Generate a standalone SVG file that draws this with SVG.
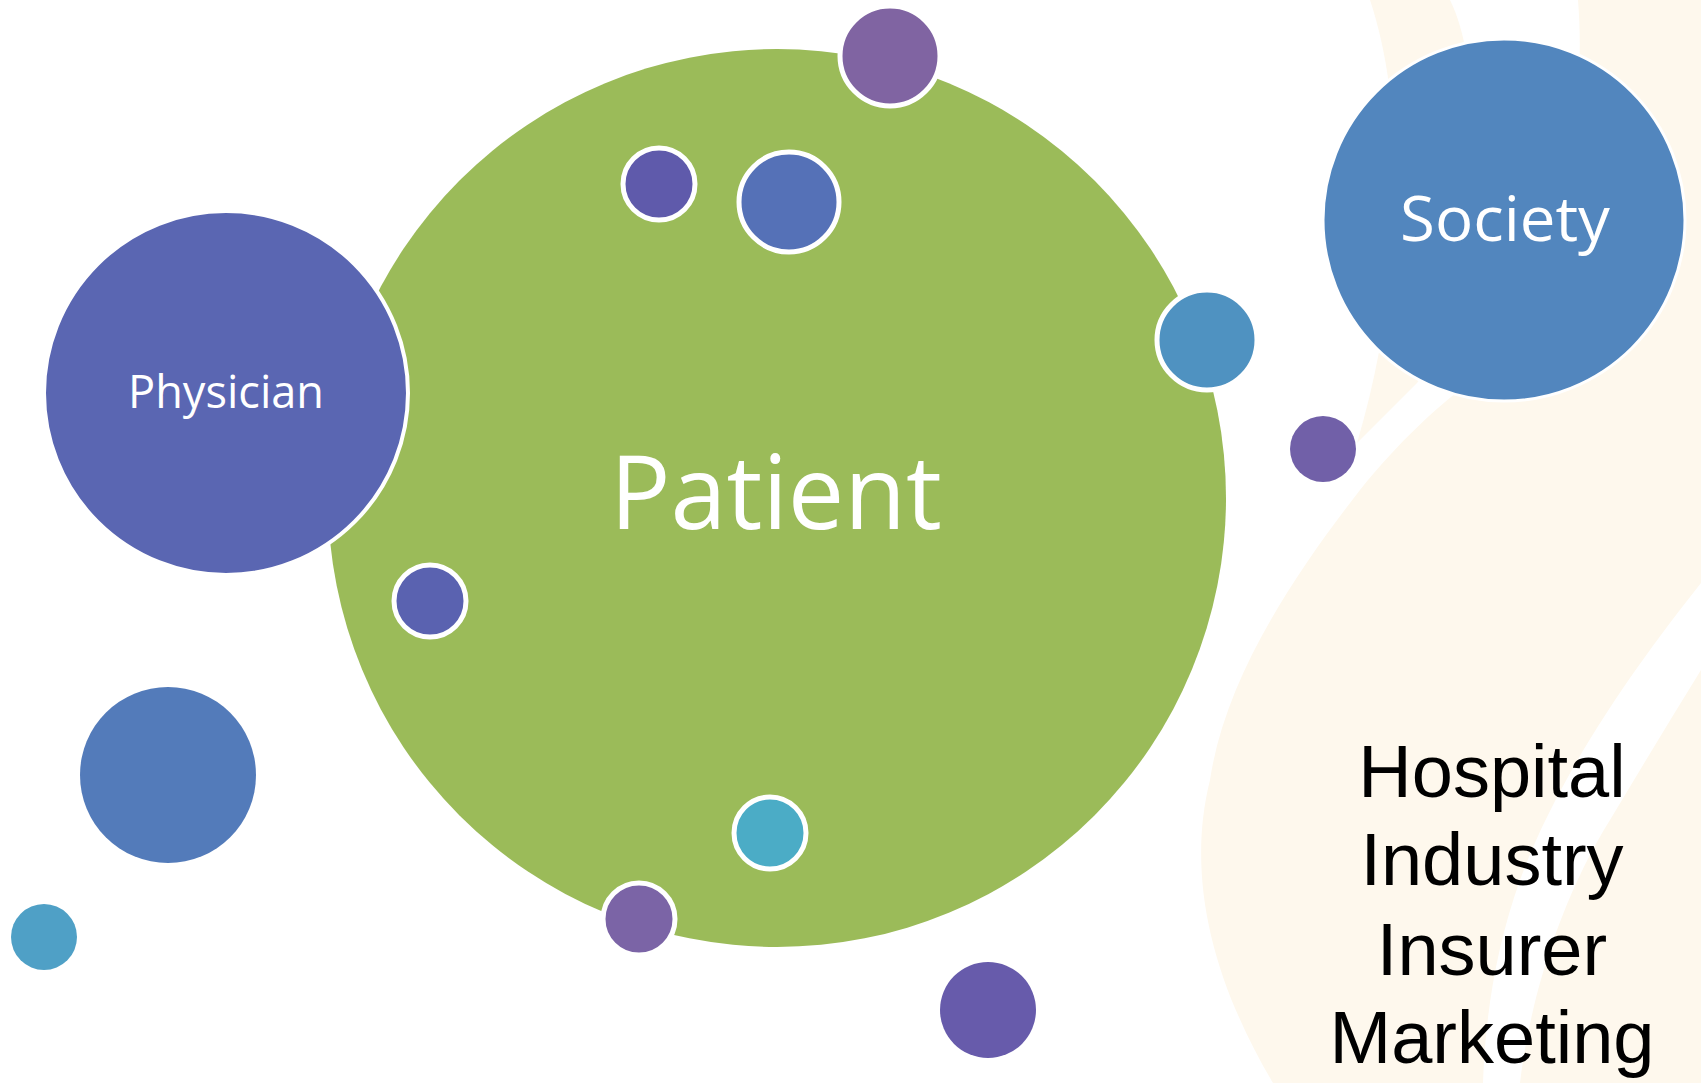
<svg xmlns="http://www.w3.org/2000/svg" width="1701" height="1083" viewBox="0 0 1701 1083">
  <style>
    .cream { fill: #fef8ed; }
    .ring { stroke: #ffffff; stroke-width: 5; }
    .lbl { font-family: "Open Sans", "Liberation Sans", sans-serif; fill: #ffffff; text-anchor: middle; }
    .side { font-family: "Liberation Sans", Arial, sans-serif; fill: #000000; font-size: 74px; text-anchor: middle; }
  </style>

  <rect width="1701" height="1083" fill="#ffffff"/>

  <!-- background swooshes -->
  <g id="background">
    <path class="cream" d="M1370,0 L1450,0 C1490,80 1480,300 1417,383 L1357,443 C1400,300 1410,120 1370,0 Z"/>
    <path class="cream" d="M1578,0 L1701,0 L1701,1083 L1273,1083 C1215,985 1185,880 1210,780 C1225,680 1290,580 1360,490 C1400,440 1440,405 1460,390 C1540,300 1590,150 1578,0 Z"/>
    <path fill="#ffffff" d="M1701,583 C1640,660 1560,770 1520,880 C1495,950 1485,1020 1483,1083 L1520,1083 C1530,1000 1560,900 1610,820 C1640,770 1670,720 1701,670 Z"/>
  </g>

  <!-- main circles -->
  <g id="patient">
    <circle cx="777" cy="498" r="449" fill="#9bbb59"/>
    <text class="lbl" x="776" y="529" font-size="102" textLength="332" lengthAdjust="spacingAndGlyphs">Patient</text>
  </g>

  <g id="physician">
    <circle cx="226" cy="393" r="182" fill="#5a66b2" stroke="#ffffff" stroke-width="4"/>
    <text class="lbl" x="226" y="408" font-size="46" textLength="196" lengthAdjust="spacingAndGlyphs">Physician</text>
  </g>

  <g id="society">
    <circle cx="1504" cy="220" r="181" fill="#5286be" stroke="#ffffff" stroke-width="3"/>
    <text class="lbl" x="1505" y="241" font-size="63" textLength="210" lengthAdjust="spacingAndGlyphs">Society</text>
  </g>

  <!-- small satellite circles -->
  <g id="dots">
    <circle class="ring" cx="890" cy="56" r="50" fill="#8064a2"/>
    <circle class="ring" cx="659" cy="184" r="36" fill="#5f5aab"/>
    <circle class="ring" cx="789" cy="202" r="50" fill="#5571b7"/>
    <circle class="ring" cx="1207" cy="340" r="50" fill="#4f92c1"/>
    <circle cx="1323" cy="449" r="33" fill="#7160a8"/>
    <circle class="ring" cx="430" cy="601" r="36" fill="#5a62b0"/>
    <circle class="ring" cx="770" cy="833" r="36" fill="#4bacc6"/>
    <circle class="ring" cx="639" cy="919" r="36" fill="#7b64a6"/>
    <circle cx="168" cy="775" r="88" fill="#537bba"/>
    <circle cx="44" cy="937" r="33" fill="#4fa0c6"/>
    <circle cx="988" cy="1010" r="48" fill="#675bab"/>
  </g>

  <!-- stakeholder list -->
  <g id="stakeholders">
    <text class="side" x="1492" y="797">Hospital</text>
    <text class="side" x="1492" y="885">Industry</text>
    <text class="side" x="1492" y="975">Insurer</text>
    <text class="side" x="1492" y="1063">Marketing</text>
  </g>

  <g id="connectors"/>
</svg>
